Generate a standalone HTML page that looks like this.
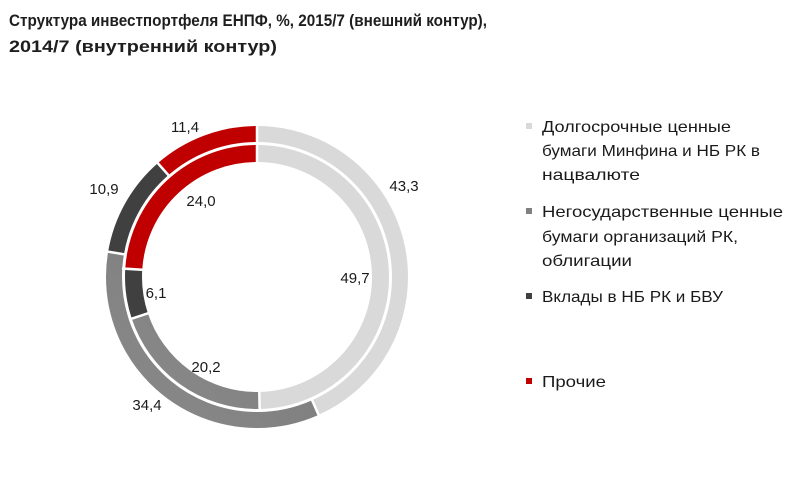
<!DOCTYPE html>
<html><head><meta charset="utf-8"><style>
html,body{margin:0;padding:0;background:#fff;}
svg{display:block;font-family:"Liberation Sans",sans-serif;}
</style></head><body>
<svg width="800" height="480" viewBox="0 0 800 480" xmlns="http://www.w3.org/2000/svg">
<rect width="800" height="480" fill="#fff"/>
<g font-weight="bold" font-size="17" fill="#1e1e1e">
<text x="9" y="26" textLength="478" lengthAdjust="spacingAndGlyphs">Структура  инвестпортфеля ЕНПФ, %, 2015/7 (внешний контур),</text>
<text x="9" y="52" textLength="268" lengthAdjust="spacingAndGlyphs">2014/7 (внутренний контур)</text>
</g>
<defs>
<linearGradient id="g2" x1="0" y1="0" x2="1" y2="1"><stop offset="0" stop-color="#8a8a8a"/><stop offset="1" stop-color="#707070"/></linearGradient>
</defs>
<g transform="rotate(-90 257 277)" fill="none">
<circle cx="257" cy="277" r="143" stroke="#d9d9d9" stroke-width="16" pathLength="100" stroke-dasharray="43.3 100" stroke-dashoffset="0"/>
<circle cx="257" cy="277" r="143" stroke="url(#g2)" stroke-width="16" pathLength="100" stroke-dasharray="0 43.3 34.4 100"/>
<circle cx="257" cy="277" r="143" stroke="#404040" stroke-width="16" pathLength="100" stroke-dasharray="0 77.7 10.9 100"/>
<circle cx="257" cy="277" r="143" stroke="#c00000" stroke-width="16" pathLength="100" stroke-dasharray="0 88.6 11.4 100"/>
<circle cx="257" cy="277" r="123.5" stroke="#d9d9d9" stroke-width="17" pathLength="100" stroke-dasharray="49.7 100"/>
<circle cx="257" cy="277" r="123.5" stroke="url(#g2)" stroke-width="17" pathLength="100" stroke-dasharray="0 49.7 20.2 100"/>
<circle cx="257" cy="277" r="123.5" stroke="#404040" stroke-width="17" pathLength="100" stroke-dasharray="0 69.9 6.1 100"/>
<circle cx="257" cy="277" r="123.5" stroke="#c00000" stroke-width="17" pathLength="100" stroke-dasharray="0 76 24 100"/>
</g>
<g stroke="#fff" stroke-width="2.5">
<line x1="257" y1="120" x2="257" y2="168"/>
<line x1="311.3" y1="398.4" x2="320" y2="418"/>
<line x1="125.9" y1="254.6" x2="104" y2="251"/>
<line x1="169.7" y1="176.6" x2="155" y2="160"/>
<line x1="259.2" y1="388" x2="259.7" y2="412"/>
<line x1="151" y1="312.3" x2="129" y2="319.6"/>
<line x1="146" y1="270" x2="122" y2="268.5"/>
</g>
<g font-size="15" fill="#1a1a1a" text-anchor="middle">
<text x="185" y="132">11,4</text>
<text x="104" y="194">10,9</text>
<text x="404" y="191">43,3</text>
<text x="201" y="206">24,0</text>
<text x="355" y="283">49,7</text>
<text x="156" y="298">6,1</text>
<text x="206" y="372">20,2</text>
<text x="147" y="410">34,4</text>
</g>
<rect x="526" y="123" width="6" height="6" fill="#d9d9d9"/>
<rect x="526" y="208" width="6" height="6" fill="#808080"/>
<rect x="526" y="293" width="6" height="6" fill="#404040"/>
<rect x="526" y="378" width="6" height="6" fill="#c00000"/>
<g font-size="16" fill="#1a1a1a">
<text x="542" y="132" textLength="189" lengthAdjust="spacingAndGlyphs">Долгосрочные ценные</text>
<text x="542" y="156" textLength="218" lengthAdjust="spacingAndGlyphs">бумаги Минфина  и НБ РК в</text>
<text x="542" y="180" textLength="98" lengthAdjust="spacingAndGlyphs">нацвалюте</text>
<text x="542" y="217" textLength="241" lengthAdjust="spacingAndGlyphs">Негосударственные ценные</text>
<text x="542" y="242" textLength="196" lengthAdjust="spacingAndGlyphs">бумаги организаций РК,</text>
<text x="542" y="266" textLength="90" lengthAdjust="spacingAndGlyphs">облигации</text>
<text x="542" y="302" textLength="181" lengthAdjust="spacingAndGlyphs">Вклады в НБ РК и БВУ</text>
<text x="542" y="387" textLength="64" lengthAdjust="spacingAndGlyphs">Прочие</text>
</g>
</svg>
</body></html>
